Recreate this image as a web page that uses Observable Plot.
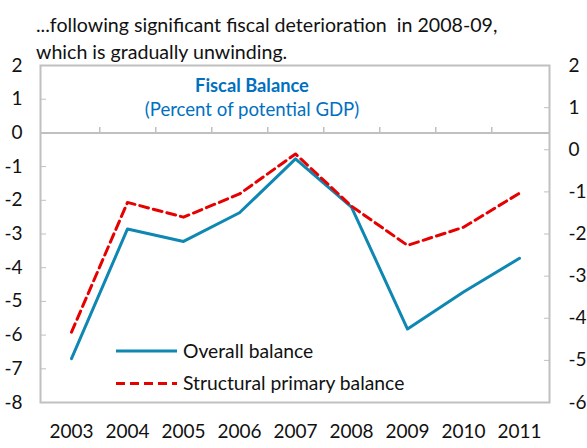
<!DOCTYPE html>
<html>
<head>
<meta charset="utf-8">
<script src="https://cdn.jsdelivr.net/npm/d3@7"></script>
<script src="https://cdn.jsdelivr.net/npm/@observablehq/plot@0.6"></script>
<style>
  html, body { margin: 0; padding: 0; background: #fff; }
  #wrap { position: relative; width: 587px; height: 448px; overflow: hidden; font-family: Lato, "Open Sans", sans-serif; }
  #chart { position: absolute; left: 0; top: 0; }
  #overlay { position: absolute; left: 0; top: 0; pointer-events: none; }
</style>
</head>
<body>
<div id="wrap">
  <div id="chart"></div>
  <svg id="overlay" width="587" height="448"></svg>
</div>
<script>
// ---- data ----
const years = ["2003", "2004", "2005", "2006", "2007", "2008", "2009", "2010", "2011"];
const overallBalance = [-6.7, -2.85, -3.22, -2.37, -0.77, -2.2, -5.82, -4.72, -3.72];
const structuralPrimaryBalance = [-4.33, -1.25, -1.6, -1.05, -0.1, -1.34, -2.27, -1.84, -1.03];
const leftTicks = [2, 1, 0, -1, -2, -3, -4, -5, -6, -7, -8];
const rightTicks = [2, 1, 0, -1, -2, -3, -4, -5, -6];
const seriesNames = ["Overall balance", "Structural primary balance"];
const headerLines = ["...following significant fiscal deterioration  in 2008-09,", "which is gradually unwinding."];
const chartTitle = "Fiscal Balance";
const chartSubtitle = "(Percent of potential GDP)";

const blue = "#0f87b3";
const red = "#e60000";
const grid = "#c0c0c0";
const ink = "#111";

// right axis domain [-6, 2] mapped onto left axis domain [-8, 2]
const leftDomain = [-8, 2];
const rightDomain = [-6, 2];
const toLeft = v => leftDomain[0] + (v - rightDomain[0]) * (leftDomain[1] - leftDomain[0]) / (rightDomain[1] - rightDomain[0]);
const toRight = v => rightDomain[0] + (v - leftDomain[0]) * (rightDomain[1] - rightDomain[0]) / (leftDomain[1] - leftDomain[0]);

const table = years.map((year, i) => ({year, overall: overallBalance[i], structural: structuralPrimaryBalance[i]}));

const W = 587, H = 448, mL = 40, mR = 38, mT = 65, mB = 46;
const step = (W - mL - mR) / years.length;

const chart = Plot.plot({
  width: W, height: H,
  marginLeft: mL, marginRight: mR, marginTop: mT, marginBottom: mB,
  style: {fontFamily: "Lato, 'Open Sans', sans-serif", fontSize: "19px", color: ink, background: "transparent", overflow: "visible"},
  x: {type: "point", domain: years, padding: 0.5},
  y: {domain: leftDomain},
  marks: [
    Plot.frame({stroke: grid, strokeWidth: 2}),
    Plot.ruleY([0], {stroke: grid, strokeWidth: 2}),
    Plot.ruleX(years.slice(0, -1), {x: d => d, y1: 0, y2: 0.16, dx: step / 2, stroke: grid, strokeWidth: 1.5}),
    Plot.axisY(leftTicks, {anchor: "left", tickSize: -6, tickPadding: 24, stroke: grid, fill: ink, tickFormat: d => String(d), label: null}),
    Plot.axisY(rightTicks.map(toLeft), {anchor: "right", tickSize: -6, tickPadding: 25, stroke: grid, fill: ink, tickFormat: d => String(Math.round(toRight(d))), label: null}),
    Plot.axisX({anchor: "bottom", tickSize: 0, tickPadding: 22, fill: ink, label: null}),
    Plot.line(table, {x: "year", y: "overall", stroke: blue, strokeWidth: 3}),
    Plot.line(table, {x: "year", y: d => toLeft(d.structural), stroke: red, strokeWidth: 3, strokeDasharray: "9,5"})
  ]
});
document.getElementById("chart").appendChild(chart);

// ---- overlay: header, inner title, legend ----
const ov = d3.select("#overlay").attr("font-family", "Lato, 'Open Sans', sans-serif");
ov.selectAll("text.hdr").data(headerLines).join("text")
  .attr("class", "hdr")
  .attr("x", 36).attr("y", (d, i) => 32 + i * 26.5)
  .attr("font-size", 19.6).attr("fill", ink)
  .attr("xml:space", "preserve").style("white-space", "pre")
  .text(d => d);
ov.append("text").attr("x", 252).attr("y", 92).attr("text-anchor", "middle")
  .attr("font-size", 18.3).attr("font-weight", "bold").attr("fill", "#0070c0").text(chartTitle);
ov.append("text").attr("x", 252).attr("y", 115.5).attr("text-anchor", "middle")
  .attr("font-size", 18.6).attr("fill", "#0070c0").text(chartSubtitle);

const legendStyles = [{stroke: blue, dash: null}, {stroke: red, dash: "9,5"}];
const lg = ov.selectAll("g.lg").data(seriesNames).join("g").attr("class", "lg")
  .attr("transform", (d, i) => `translate(116,${351 + i * 32.5})`);
lg.append("line").attr("x1", 0).attr("x2", 61).attr("y1", 0).attr("y2", 0)
  .attr("stroke", (d, i) => legendStyles[i].stroke).attr("stroke-width", 3)
  .attr("stroke-dasharray", (d, i) => legendStyles[i].dash);
lg.append("text").attr("x", 67).attr("y", 6.8).attr("font-size", 19.3).attr("fill", ink).text(d => d);
</script>
</body>
</html>
